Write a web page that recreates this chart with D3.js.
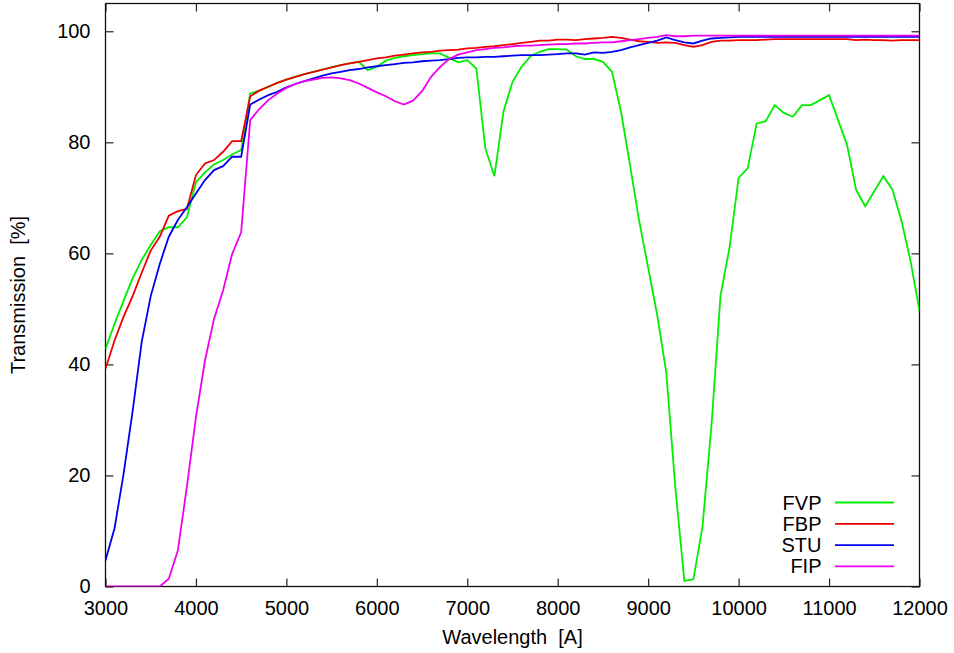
<!DOCTYPE html>
<html>
<head>
<meta charset="utf-8">
<script src="https://cdn.jsdelivr.net/npm/d3@7"></script>
<style>
  html, body { margin: 0; padding: 0; background: #fff; }
  svg { display: block; font-family: "Liberation Sans", Arial, sans-serif; }
</style>
</head>
<body>
<svg id="chart" width="954" height="653"></svg>
<script>
// Wavelength grid [Å]
const wavelength = [
  3000, 3100, 3200, 3300, 3400, 3500, 3600, 3700, 3800, 3900,
  4000, 4100, 4200, 4300, 4400, 4500, 4600, 4700, 4800, 4900,
  5000, 5100, 5200, 5300, 5400, 5500, 5600, 5700, 5800, 5900,
  6000, 6100, 6200, 6300, 6400, 6500, 6600, 6700, 6800, 6900,
  7000, 7100, 7200, 7300, 7400, 7500, 7600, 7700, 7800, 7900,
  8000, 8100, 8200, 8300, 8400, 8500, 8600, 8700, 8800, 8900,
  9000, 9100, 9200, 9300, 9400, 9500, 9600, 9700, 9800, 9900,
  10000, 10100, 10200, 10300, 10400, 10500, 10600, 10700, 10800, 10900,
  11000, 11100, 11200, 11300, 11400, 11500, 11600, 11700, 11800, 11900,
  12000
];

// Transmission [%] per filter
const FVP = [
  42.8, 47.3, 51.5, 55.5, 58.8, 61.5, 64.0, 64.7, 64.7, 66.5,
  72.8, 74.6, 76.0, 76.8, 77.8, 78.6, 88.8, 89.3, 90.0, 90.7,
  91.3, 91.8, 92.3, 92.7, 93.1, 93.5, 93.9, 94.2, 94.5, 93.0,
  93.6, 94.7, 95.2, 95.5, 95.7, 95.9, 96.0, 96.0, 95.2, 94.4,
  94.8, 93.3, 78.9, 73.9, 85.5, 90.9, 93.6, 95.5, 96.3, 96.8,
  96.8, 96.7, 95.5, 95.0, 95.0, 94.5, 92.7, 85.5, 75.8, 65.9,
  57.4, 48.9, 38.6, 17.9, 1.0, 1.3, 10.7, 29.0, 52.4, 61.1,
  73.6, 75.3, 83.4, 83.8, 86.7, 85.3, 84.6, 86.7, 86.7, 87.6,
  88.5, 84.0, 79.5, 71.4, 68.5, 71.2, 73.9, 71.5, 65.9, 58.7,
  49.7
];
const FBP = [
  39.2, 44.3, 48.6, 52.3, 56.5, 60.5, 63.0, 66.8, 67.6, 68.0,
  74.1, 76.2, 76.8, 78.3, 80.2, 80.2, 88.3, 89.3, 90.0, 90.7,
  91.3, 91.8, 92.3, 92.7, 93.1, 93.5, 93.9, 94.2, 94.5, 94.8,
  95.1, 95.3, 95.6, 95.8, 96.0, 96.2, 96.3, 96.5, 96.6, 96.7,
  96.9, 97.0, 97.2, 97.3, 97.5, 97.7, 97.9, 98.1, 98.3, 98.3,
  98.5, 98.5, 98.4, 98.6, 98.7, 98.8, 99.0, 98.8, 98.5, 98.2,
  98.1, 97.9, 98.0, 97.9, 97.5, 97.2, 97.5, 98.1, 98.3, 98.3,
  98.4, 98.4, 98.4, 98.5, 98.6, 98.6, 98.6, 98.6, 98.6, 98.6,
  98.6, 98.6, 98.6, 98.4, 98.5, 98.4, 98.4, 98.3, 98.4, 98.4,
  98.4
];
const STU = [
  4.7, 10.5, 20.3, 31.6, 44.0, 52.3, 58.1, 63.0, 66.0, 68.3,
  70.8, 73.2, 75.0, 75.7, 77.4, 77.4, 86.8, 87.7, 88.5, 89.1,
  89.9, 90.5, 91.0, 91.5, 92.0, 92.4, 92.7, 93.0, 93.2, 93.5,
  93.7, 93.9, 94.1, 94.3, 94.4, 94.6, 94.7, 94.8, 95.0, 95.2,
  95.3, 95.3, 95.4, 95.4, 95.5, 95.6, 95.7, 95.7, 95.7, 95.8,
  95.9, 96.0, 96.0, 95.8, 96.2, 96.1, 96.3, 96.6, 97.1, 97.5,
  97.9, 98.3, 98.9, 98.4, 98.0, 97.8, 98.3, 98.7, 98.8, 98.9,
  99.0, 99.0, 99.0, 99.0, 99.0, 99.0, 99.0, 99.0, 99.0, 99.0,
  99.0, 99.0, 99.0, 99.0, 99.0, 99.0, 99.0, 99.0, 99.0, 99.0,
  99.0
];
const FIP = [
  0.0, 0.0, 0.0, 0.0, 0.0, 0.0, 0.0, 1.4, 6.5, 18.0,
  30.5, 40.7, 48.2, 53.3, 59.9, 63.8, 84.0, 86.0, 87.6, 88.8,
  89.8, 90.5, 91.0, 91.3, 91.6, 91.7, 91.5, 91.2, 90.6, 89.8,
  89.0, 88.3, 87.4, 86.8, 87.5, 89.2, 91.8, 93.6, 95.0, 95.8,
  96.2, 96.6, 96.8, 97.0, 97.1, 97.3, 97.4, 97.4, 97.5, 97.6,
  97.7, 97.7, 97.8, 97.8, 97.9, 98.0, 98.0, 98.2, 98.4, 98.6,
  98.8, 99.0, 99.3, 99.1, 99.1, 99.2, 99.2, 99.2, 99.2, 99.2,
  99.2, 99.2, 99.2, 99.2, 99.2, 99.2, 99.2, 99.2, 99.2, 99.2,
  99.2, 99.2, 99.2, 99.2, 99.2, 99.2, 99.2, 99.2, 99.2, 99.2,
  99.2
];

const seriesNames = ["FVP", "FBP", "STU", "FIP"];
const seriesValues = [FVP, FBP, STU, FIP];
const seriesColors = ["#00ee00", "#ee0000", "#0000ee", "#ee00ee"];

const xTicks = [3000, 4000, 5000, 6000, 7000, 8000, 9000, 10000, 11000, 12000];
const yTicks = [0, 20, 40, 60, 80, 100];

// Plot frame
const frameLeft = 105.5, frameRight = 919.5, frameTop = 3.5, frameBottom = 586.5;
const svg = d3.select("#chart");

const x = d3.scaleLinear().domain([3000, 12000]).range([frameLeft, frameRight]);
const y = d3.scaleLinear().domain([0, 105]).range([frameBottom, frameTop]);

const tickLen = 8;
const fontSize = 20;

// Axes with inward ticks, mirrored on top and right
const axisB = d3.axisBottom(x).tickValues(xTicks).tickSize(-tickLen).tickPadding(tickLen + 6).tickFormat(d3.format("d"));
const axisT = d3.axisTop(x).tickValues(xTicks).tickSize(-tickLen).tickFormat("");
const axisL = d3.axisLeft(y).tickValues(yTicks).tickSize(-tickLen).tickPadding(tickLen + 7).tickFormat(d3.format("d"));
const axisR = d3.axisRight(y).tickValues(yTicks).tickSize(-tickLen).tickFormat("");

function styleAxis(g) {
  g.select(".domain").remove();
  g.selectAll(".tick line").attr("stroke", "#222").attr("stroke-width", 1.2);
  g.selectAll(".tick text").attr("fill", "#000").style("font-size", fontSize + "px")
    .style("font-family", "'Liberation Sans', Arial, sans-serif");
}

svg.append("g").attr("transform", `translate(0,${frameBottom})`).call(axisB).call(styleAxis);
svg.append("g").attr("transform", `translate(0,${frameTop})`).call(axisT).call(styleAxis);
svg.append("g").attr("transform", `translate(${frameLeft},0)`).call(axisL).call(styleAxis);
svg.append("g").attr("transform", `translate(${frameRight},0)`).call(axisR).call(styleAxis);

// Border box
svg.append("rect")
  .attr("x", frameLeft).attr("y", frameTop)
  .attr("width", frameRight - frameLeft).attr("height", frameBottom - frameTop)
  .attr("fill", "none").attr("stroke", "#111").attr("stroke-width", 1.3);

// Curves
const line = d3.line()
  .x((d, i) => x(wavelength[i]))
  .y(d => y(d));

svg.append("clipPath").attr("id", "plotclip")
  .append("rect").attr("x", frameLeft).attr("y", frameTop)
  .attr("width", frameRight - frameLeft).attr("height", frameBottom - frameTop);

const curves = svg.append("g").attr("clip-path", "url(#plotclip)");
seriesValues.forEach((vals, k) => {
  curves.append("path")
    .datum(vals)
    .attr("d", line)
    .attr("fill", "none")
    .attr("stroke", seriesColors[k])
    .attr("stroke-width", 1.8)
    .attr("stroke-linejoin", "miter");
});

// Axis titles
svg.append("text")
  .attr("x", (frameLeft + frameRight) / 2).attr("y", 644)
  .attr("text-anchor", "middle")
  .style("font-size", fontSize + "px")
  .style("white-space", "pre")
  .attr("xml:space", "preserve")
  .text("Wavelength  [A]");

svg.append("text")
  .attr("transform", `translate(25,${(frameTop + frameBottom) / 2}) rotate(-90)`)
  .attr("text-anchor", "middle")
  .style("font-size", fontSize + "px")
  .style("white-space", "pre")
  .attr("xml:space", "preserve")
  .text("Transmission  [%]");

// Key
const keyTop = 502.5, keyStep = 21.3;
const key = svg.append("g");
seriesNames.forEach((name, k) => {
  const yy = keyTop + k * keyStep;
  key.append("text")
    .attr("x", 821.5).attr("y", yy + 7)
    .attr("text-anchor", "end")
    .style("font-size", fontSize + "px")
    .text(name);
  key.append("line")
    .attr("x1", 835).attr("x2", 894)
    .attr("y1", yy).attr("y2", yy)
    .attr("stroke", seriesColors[k])
    .attr("stroke-width", 1.8);
});
</script>
</body>
</html>
